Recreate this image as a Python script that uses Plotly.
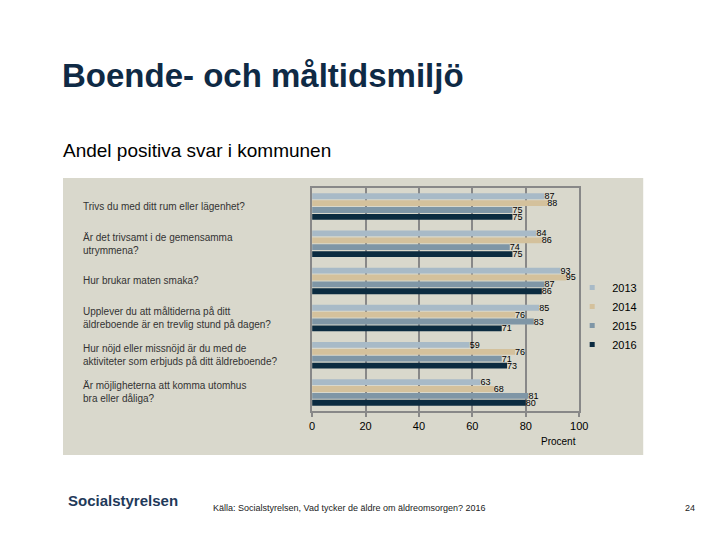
import plotly.graph_objects as go

categories = [
    "Trivs du med ditt rum eller lägenhet?",
    "Är det trivsamt i de gemensamma<br>utrymmena?",
    "Hur brukar maten smaka?",
    "Upplever du att måltiderna på ditt<br>äldreboende är en trevlig stund på dagen?",
    "Hur nöjd eller missnöjd är du med de<br>aktiviteter som erbjuds på ditt äldreboende?",
    "Är möjligheterna att komma utomhus<br>bra eller dåliga?",
]
years = ["2013", "2014", "2015", "2016"]
v2013 = [87, 84, 93, 85, 59, 63]
v2014 = [88, 86, 95, 76, 76, 68]
v2015 = [75, 74, 87, 83, 71, 81]
v2016 = [75, 75, 86, 71, 73, 80]
series = [v2013, v2014, v2015, v2016]
colors = ["#A8BAC7", "#D4C19C", "#7F96A6", "#0B2B40"]
xticks = [0, 20, 40, 60, 80, 100]

W, H = 720, 540
def px(x): return (x - 11) / 0.983 / W
def py(y): return 1 - (y - 8) / H

FONT = "Arial, Liberation Sans"

fig = go.Figure()
for yr, vals, c in zip(years, series, colors):
    fig.add_trace(go.Bar(
        y=categories, x=vals, name=yr, orientation="h",
        marker=dict(color=c, line=dict(width=0)),
        text=[str(v) for v in vals], textposition="outside",
        textfont=dict(family=FONT, size=9, color="#000"),
        constraintext="none", cliponaxis=False, showlegend=False,
    ))
# legend entries with small square markers
for yr, c in zip(years, colors):
    fig.add_trace(go.Scatter(
        x=[None], y=[None], mode="markers", name=yr,
        marker=dict(symbol="square", size=5, color=c), showlegend=True,
    ))

annotations = []
for cat in categories:
    annotations.append(dict(
        x=px(81), xref="paper", y=cat, yref="y", text=cat, showarrow=False,
        xanchor="left", yanchor="middle", align="left",
        font=dict(family=FONT, size=10, color="#333"),
    ))

annotations += [
    dict(x=px(60), y=py(75), xref="paper", yref="paper", text="<b>Boende- och måltidsmiljö</b>",
         showarrow=False, xanchor="left", yanchor="middle",
         font=dict(family=FONT, size=33, color="#0F2A45")),
    dict(x=px(61), y=py(150), xref="paper", yref="paper", text="Andel positiva svar i kommunen",
         showarrow=False, xanchor="left", yanchor="middle",
         font=dict(family=FONT, size=19, color="#000")),
    dict(x=px(558), y=py(441), xref="paper", yref="paper", text="Procent",
         showarrow=False, xanchor="center", yanchor="middle",
         font=dict(family=FONT, size=10, color="#000")),
    dict(x=px(66), y=py(500), xref="paper", yref="paper", text="<b>Socialstyrelsen</b>",
         showarrow=False, xanchor="left", yanchor="middle",
         font=dict(family=FONT, size=15, color="#1F3A5A")),
    dict(x=px(211), y=py(508), xref="paper", yref="paper",
         text="Källa: Socialstyrelsen, Vad tycker de äldre om äldreomsorgen? 2016",
         showarrow=False, xanchor="left", yanchor="middle",
         font=dict(family=FONT, size=9, color="#222")),
    dict(x=px(697), y=py(508), xref="paper", yref="paper", text="24",
         showarrow=False, xanchor="right", yanchor="middle",
         font=dict(family=FONT, size=9, color="#222")),
]

shapes = [
    dict(type="rect", xref="paper", yref="paper", x0=px(63), x1=px(643), y0=py(455), y1=py(178),
         fillcolor="#D9D8CC", line=dict(width=0), layer="below"),
]

fig.update_layout(
    width=W, height=H,
    margin=dict(l=0, r=0, t=0, b=0),
    paper_bgcolor="white", plot_bgcolor="white",
    barmode="group", bargap=0.26, bargroupgap=0.15,
    showlegend=True,
    legend=dict(x=px(572), y=py(273), xanchor="left", yanchor="top",
                bgcolor="rgba(0,0,0,0)", font=dict(family=FONT, size=11, color="#000"),
                itemwidth=30, tracegroupgap=0),
    xaxis=dict(domain=[px(312), px(579)], range=[0, 100], tickvals=xticks,
               showgrid=True, gridcolor="#888", gridwidth=2,
               showline=True, linecolor="#888", linewidth=2, mirror=True,
               ticks="outside", ticklen=4, tickcolor="#888", tickwidth=2,
               tickfont=dict(family=FONT, size=11, color="#000"),
               zeroline=False, fixedrange=True),
    yaxis=dict(domain=[py(411), py(188)], autorange="reversed", showticklabels=False,
               showline=True, linecolor="#888", linewidth=2, mirror=True, ticks="",
               showgrid=False, fixedrange=True),
    annotations=annotations, shapes=shapes,
)

fig.write_html("out.html")
